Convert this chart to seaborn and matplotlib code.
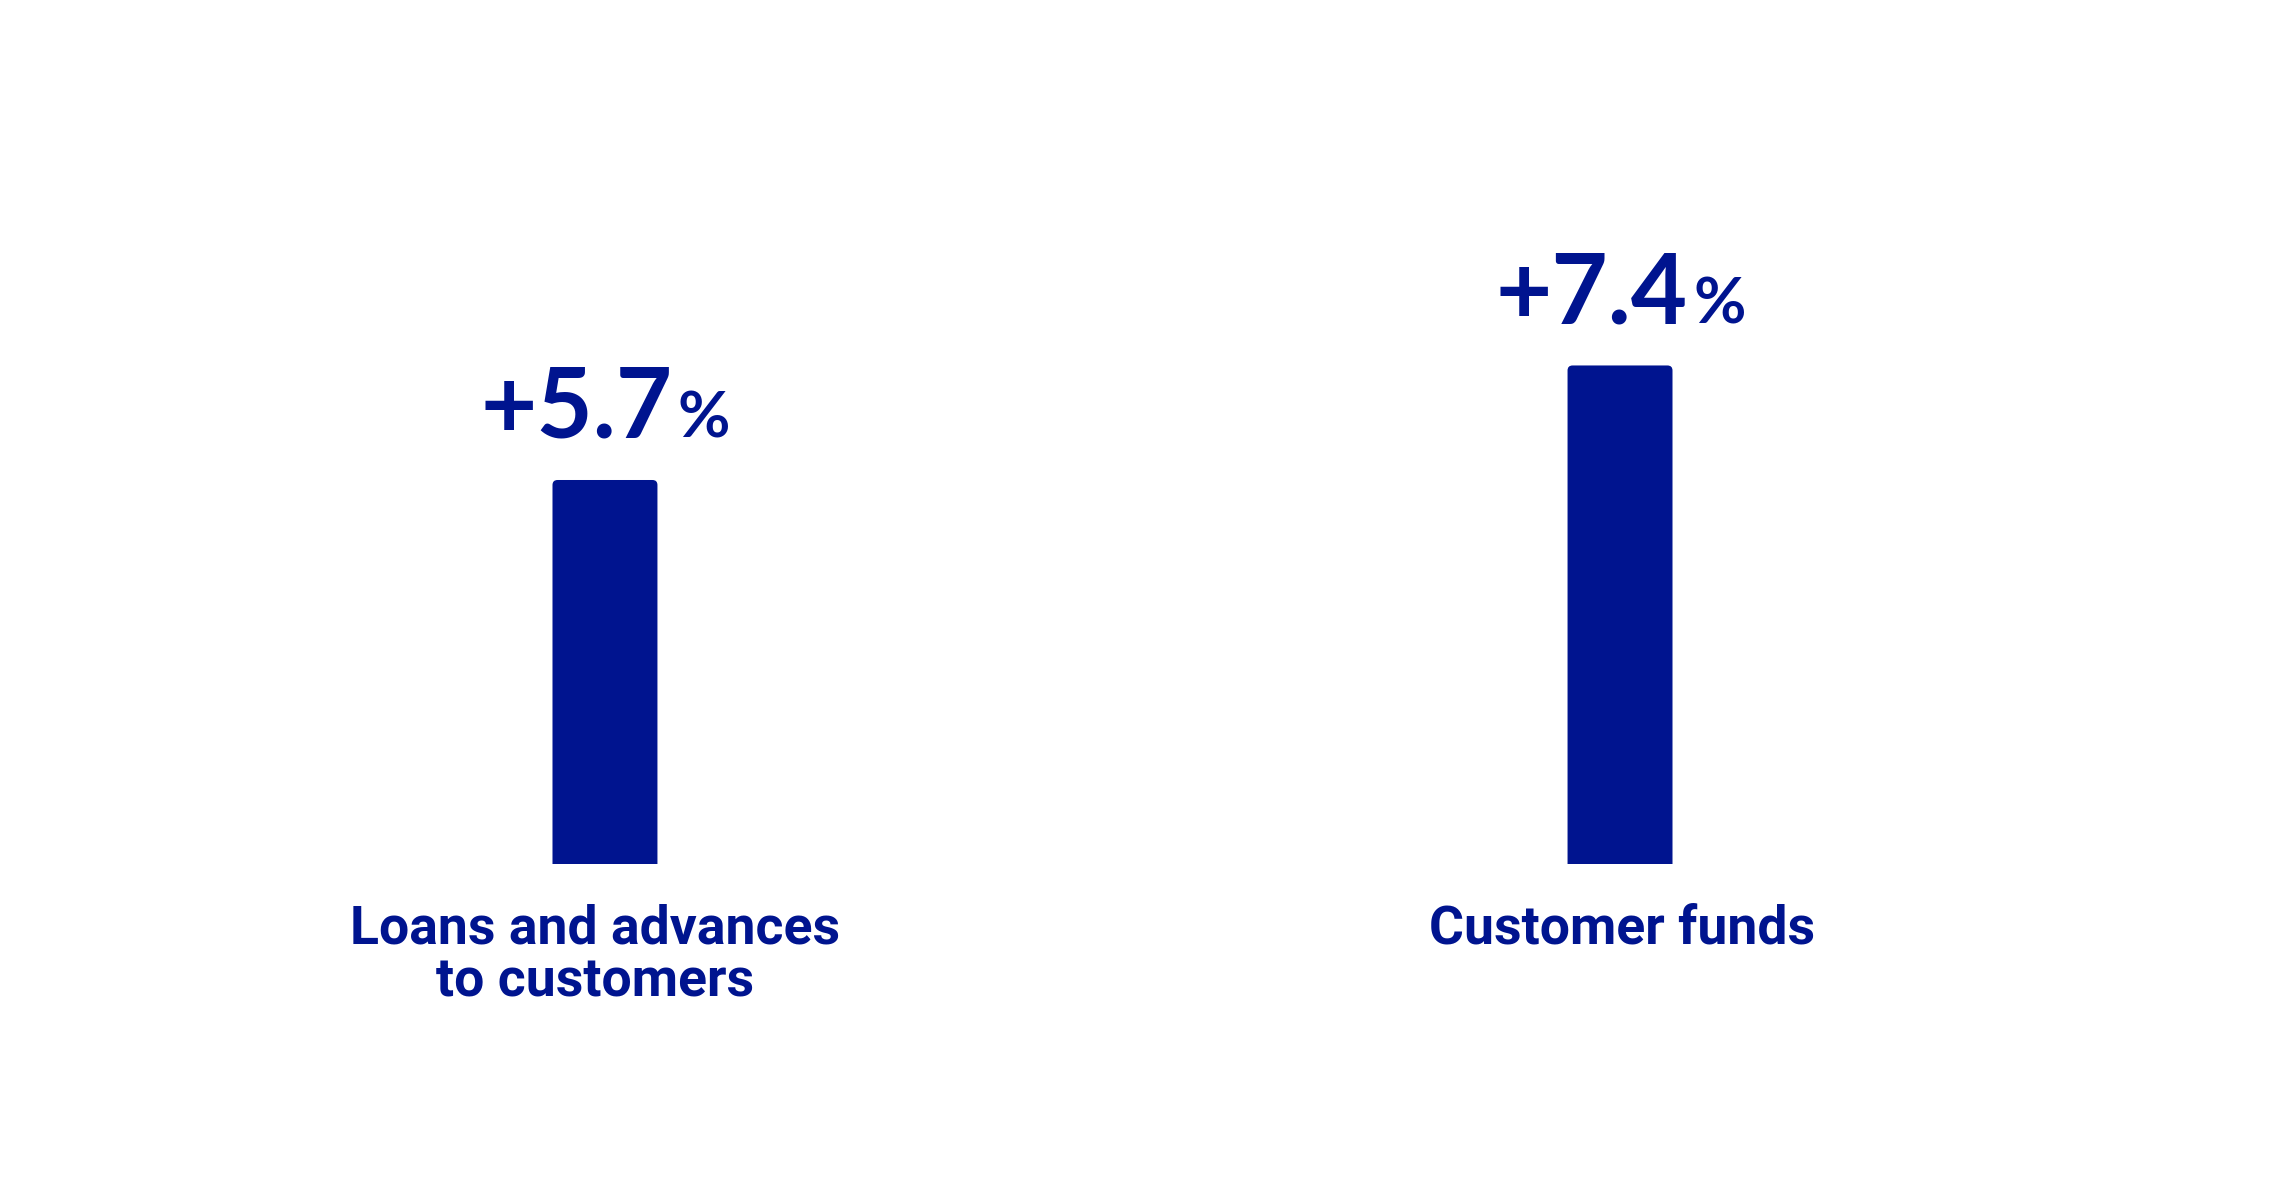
import matplotlib
matplotlib.use("Agg")
import matplotlib.pyplot as plt
import seaborn as sns
import pandas as pd
from matplotlib.patches import FancyBboxPatch

# data
categories = ["Loans and advances\nto customers", "Customer funds"]
growth = [5.7, 7.4]
value_labels = ["+5.7", "+7.4"]

navy = "#00148F"

sns.set_theme(style="white")
plt.rcParams['font.family'] = ['DejaVu Sans']

df = pd.DataFrame({"category": categories, "growth": growth})

fig = plt.figure(figsize=(22.93, 11.88), dpi=100)
ax = fig.add_axes([0, 324 / 1188, 1, 864 / 1188])

sns.barplot(data=df, x="category", y="growth", color=navy, width=0.1034,
            saturation=1, ax=ax)

# bars get small rounded top corners
for bar in list(ax.patches):
    x, w, h = bar.get_x(), bar.get_width(), bar.get_height()
    rb = FancyBboxPatch((x, -1), w, h + 1,
                        boxstyle="round,pad=0,rounding_size=0.005",
                        mutation_aspect=14.9, facecolor=navy, edgecolor="none")
    bar.set_visible(False)
    ax.add_patch(rb)

ax.set_xlim(-0.596, 1.663)
ax.set_ylim(0, 864 / 67.37)
ax.set_axis_off()

for i, (v, lab) in enumerate(zip(growth, value_labels)):
    ax.annotate(lab, (i, v), xytext=(68, 42), textcoords="offset pixels",
                ha="right", va="baseline", fontsize=70, color=navy,
                fontweight="bold", family=["Lato", "DejaVu Sans"])
    ax.annotate("%", (i, v), xytext=(73, 42), textcoords="offset pixels",
                ha="left", va="baseline", fontsize=46, color=navy,
                fontweight="bold", family=["Lato", "DejaVu Sans"])
    ax.annotate(categories[i], (i, 0), xytext=(-10 if i == 0 else 2, -39),
                textcoords="offset pixels",
                ha="center", va="top", fontsize=38.5, fontweight="bold",
                color=navy, linespacing=1.06, annotation_clip=False,
                family=["Roboto", "DejaVu Sans"])

fig.savefig("out.png", dpi=100)
